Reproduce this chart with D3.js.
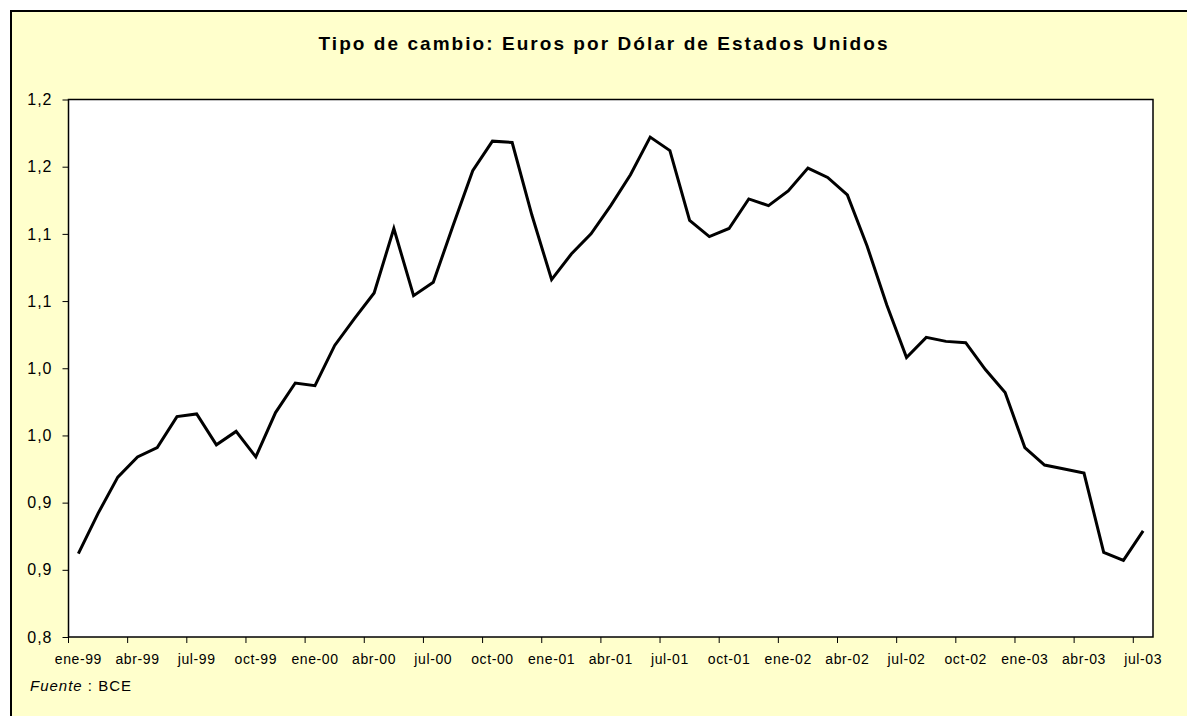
<!DOCTYPE html>
<html>
<head>
<meta charset="utf-8">
<script src="https://cdn.jsdelivr.net/npm/d3@7"></script>
<style>
  body { margin: 0; background: #ffffff; }
  text { font-family: "Liberation Sans", Arial, sans-serif; fill: #000; }
</style>
</head>
<body>
<div id="chart"></div>
<script>
// categorias mensuales
const categories = [
  "ene-99","feb-99","mar-99","abr-99","may-99","jun-99","jul-99","ago-99","sep-99","oct-99","nov-99","dic-99",
  "ene-00","feb-00","mar-00","abr-00","may-00","jun-00","jul-00","ago-00","sep-00","oct-00","nov-00","dic-00",
  "ene-01","feb-01","mar-01","abr-01","may-01","jun-01","jul-01","ago-01","sep-01","oct-01","nov-01","dic-01",
  "ene-02","feb-02","mar-02","abr-02","may-02","jun-02","jul-02","ago-02","sep-02","oct-02","nov-02","dic-02",
  "ene-03","feb-03","mar-03","abr-03","may-03","jun-03","jul-03"
];

// euros por dolar
const values = [
  0.862, 0.892, 0.919, 0.934, 0.941, 0.964, 0.966, 0.943, 0.953, 0.934, 0.967, 0.989,
  0.987, 1.017, 1.037, 1.056, 1.104, 1.054, 1.064, 1.106, 1.147, 1.169, 1.168, 1.114,
  1.066, 1.085, 1.100, 1.121, 1.144, 1.172, 1.162, 1.110, 1.098, 1.104, 1.126, 1.121,
  1.132, 1.149, 1.142, 1.129, 1.091, 1.047, 1.008, 1.023, 1.020, 1.019, 0.999, 0.982,
  0.941, 0.928, 0.925, 0.922, 0.863, 0.857, 0.879
];

const yTicks = [0.80, 0.85, 0.90, 0.95, 1.00, 1.05, 1.10, 1.15, 1.20];
const yLabels = ["0,8", "0,9", "0,9", "1,0", "1,0", "1,1", "1,1", "1,2", "1,2"];

const title = "Tipo de cambio: Euros por Dólar de Estados Unidos";

var width = 1187
var height = 716
var plot = { left: 68.5, top: 99.5, right: 1153, bottom: 637 }

var svg = d3.select("#chart")
  .append("svg")
    .attr("width", width)
    .attr("height", height)

// marco amarillo
svg.append("rect")
  .attr("x", 11).attr("y", 11)
  .attr("width", width + 20).attr("height", height + 20)
  .attr("fill", "#ffffcc")
  .attr("stroke", "#000")
  .attr("stroke-width", 2)

// area del grafico
svg.append("rect")
  .attr("x", plot.left).attr("y", plot.top)
  .attr("width", plot.right - plot.left)
  .attr("height", plot.bottom - plot.top)
  .attr("fill", "#fff")
  .attr("stroke", "#000")
  .attr("stroke-width", 1.5)

var x = d3.scaleBand()
  .domain(categories)
  .range([plot.left, plot.right])
  .padding(0)

var y = d3.scaleLinear()
  .domain([0.8, 1.2])
  .range([plot.bottom, plot.top])

// eje y
var yAxis = svg.append("g")
  .attr("transform", "translate(" + plot.left + ",0)")
  .call(d3.axisLeft(y)
    .tickValues(yTicks)
    .tickFormat((d, i) => yLabels[i])
    .tickSize(6)
    .tickPadding(10))
yAxis.select(".domain").remove()
yAxis.selectAll("line").attr("stroke", "#000").attr("stroke-width", 1)
yAxis.selectAll("text")
  .style("font-family", "'Liberation Sans', Arial, sans-serif")
  .style("font-size", "16px")
  .style("letter-spacing", "1px")
  .attr("fill", "#000")

// eje x: marcas entre categorias cada 3 meses
var quarterly = categories.filter((c, i) => i % 3 == 0)
var xAxis = svg.append("g")

xAxis.selectAll("line")
  .data(quarterly)
  .enter()
  .append("line")
    .attr("x1", d => x(d)).attr("x2", d => x(d))
    .attr("y1", plot.bottom).attr("y2", plot.bottom + 6)
    .attr("stroke", "#000")

xAxis.selectAll("text")
  .data(quarterly)
  .enter()
  .append("text")
    .attr("x", d => x(d) + x.bandwidth() / 2)
    .attr("y", 664)
    .attr("text-anchor", "middle")
    .style("font-size", "14px")
    .style("letter-spacing", "0.6px")
    .text(d => d)

// linea
var line = d3.line()
  .x((d, i) => x(categories[i]) + x.bandwidth() / 2)
  .y(d => y(d))

svg.append("path")
  .datum(values)
  .attr("d", line)
  .attr("fill", "none")
  .attr("stroke", "#000")
  .attr("stroke-width", 3)
  .attr("stroke-linejoin", "miter")

// titulo
svg.append("text")
  .attr("x", 603)
  .attr("y", 50)
  .attr("text-anchor", "middle")
  .attr("textLength", 569)
  .attr("lengthAdjust", "spacing")
  .style("font-size", "19px")
  .style("font-weight", "bold")
  .text(title)

// fuente
var src = svg.append("text")
  .attr("x", 30)
  .attr("y", 691)
  .style("font-size", "15px")
  .style("letter-spacing", "1px")
src.append("tspan").style("font-style", "italic").text("Fuente")
src.append("tspan").text(" : BCE")
</script>
</body>
</html>
